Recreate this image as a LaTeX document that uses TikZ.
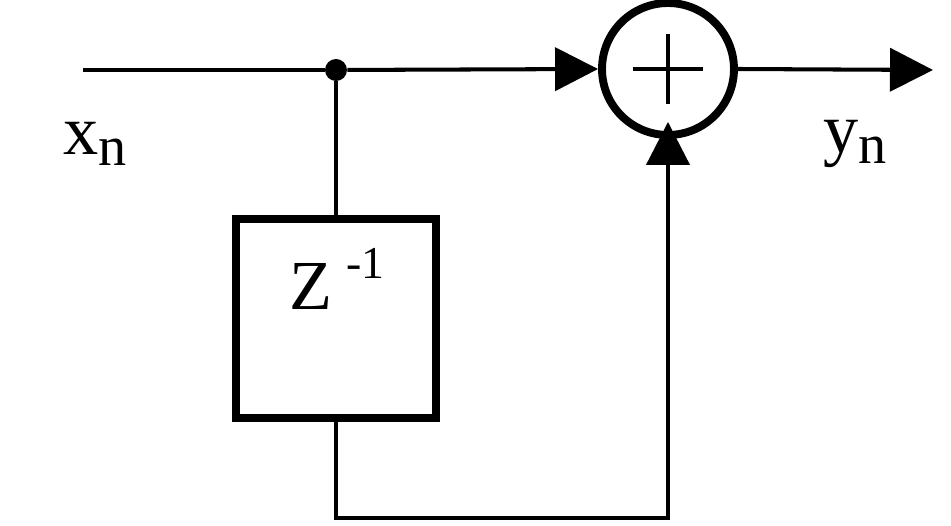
\documentclass[tikz,border=0pt]{standalone}
\usepackage{fontspec}
\setmainfont{Liberation Serif}
\usetikzlibrary{positioning,arrows.meta}

\begin{document}
\begin{tikzpicture}[x=0.02cm,y=-0.02cm,
		wire/.style={line width=2.3pt},
		tip/.style={-{Triangle[length=0.86cm,width=0.86cm]}},
		block/.style={draw=black,line width=4.5pt,inner sep=0pt},
		lbl/.style={inner sep=0pt,font=\fontsize{40}{40}\selectfont}]
		\useasboundingbox (0,0) rectangle (951,526);
		\node[block,minimum width=4cm,minimum height=3.98cm] (delay) at (336,318.5) {};
		\node[block,circle,minimum size=2.64cm] (sum) at (668,69) {};
		\node[circle,fill=black,inner sep=0pt,minimum size=0.44cm] (tap) at (336,70) {};
		\coordinate (xin) at (83,70);
		\coordinate (yout) at (933,70);
		\coordinate (fb) at (336,518);
		% plus sign
		\draw[wire] ([xshift=-0.7cm]sum.center) -- ([xshift=0.7cm]sum.center);
		\draw[wire] ([yshift=0.7cm]sum.center) -- ([yshift=-0.7cm]sum.center);
		% signal path
		\draw[wire] (xin) -- (tap);
		\draw[wire,tip] (tap) -- (sum.west);
		\draw[wire,tip] (sum.east) -- (yout);
		\draw[wire] (tap) -- (delay.north);
		\draw[wire,tip,shorten >=-0.34cm] (delay.south) -- (fb) -| (sum.south);
		% labels
		\node[lbl,anchor=base west] (xlab) at (63,155) {x\raisebox{-5.7pt}{\fontsize{32}{32}\selectfont n}};
		\node[lbl,anchor=base west] (ylab) at (823,153) {y\raisebox{-5.7pt}{\fontsize{32}{32}\selectfont n}};
		\node[lbl,anchor=base west] (zlab) at (289,310) {Z\hspace{8pt}\raisebox{18pt}{\fontsize{26}{26}\selectfont -1}};
	\end{tikzpicture}
\end{document}
